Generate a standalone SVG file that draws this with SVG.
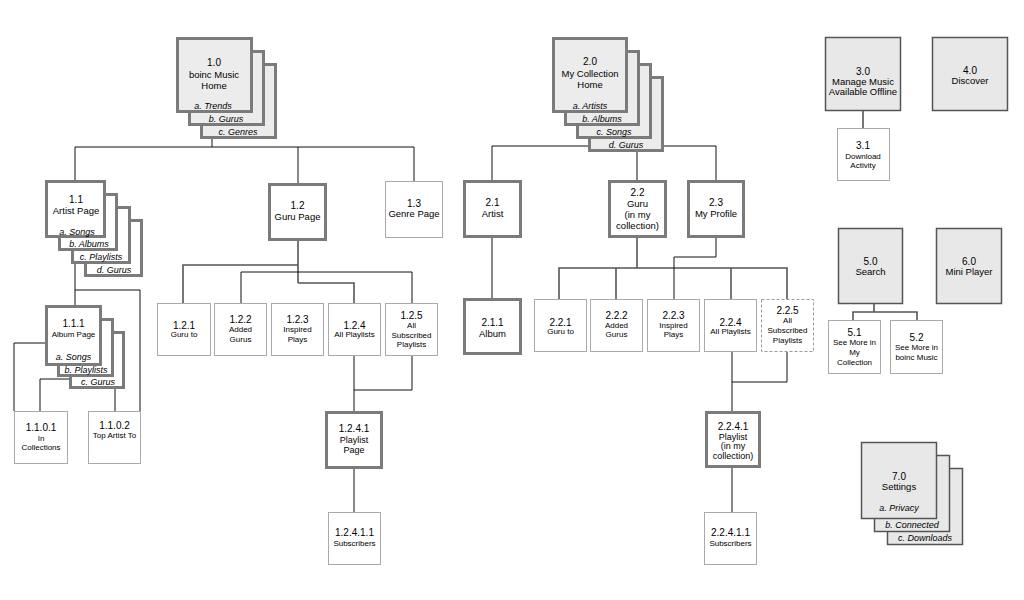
<svg xmlns="http://www.w3.org/2000/svg" width="1024" height="600" viewBox="0 0 1024 600">
<style>
.bg{fill:#fff}
.tk{fill:#fff;stroke:#7b7b7b;stroke-width:3}
.tkg{fill:#ececec;stroke:#7b7b7b;stroke-width:3}
.tn{fill:#fff;stroke:#aaa;stroke-width:1}
.dk{fill:#e8e8e8;stroke:#555;stroke-width:1.5}
.ds{fill:#fff;stroke:#999;stroke-width:1;stroke-dasharray:3 2}
text{font-family:"Liberation Sans",Arial,sans-serif;text-anchor:middle;fill:#000}
.n{font-size:10px}
.l{font-size:9.5px}
.m{font-size:9px}
.s{font-size:8px}
.i{font-size:9px;font-style:italic}
.c path{fill:none;stroke:#111;stroke-width:1}
.c path.g{stroke:#555;stroke-width:1.6}
</style>
<rect class="bg" x="0" y="0" width="1024" height="600"/>

<g id="connectors" class="c">
<path d="M212 137V147M75 147H414M75 147V305M298 147V183M414 147V181"/>
<path d="M75 290H140V411M46 343H14V411M70 379H40V411M115 388V411"/>
<path class="g" d="M298 241V283M298 265H183V303M298 283H354V303"/>
<path d="M241 303V272H412V303"/>
<path d="M354 355V411M412 355V390H354M354 468V512"/>
<path d="M589 146H492V180M637 150V180M662 146H716V180M492 238V298"/>
<path class="g" d="M637 238V268M559 299V268H787V299M616 268V299M731 268V299"/>
<path d="M716 238V257H674V299"/>
<path d="M732 352V411M787 352V382H732M732 468V512"/>
<path class="g" d="M863 111V128M874 303V312M853 320V312H917V320"/>
</g>

<g id="n1_0">
<rect class="tkg" x="201.5" y="64.5" width="74" height="73"/>
<text class="i" x="238" y="134.5">c. Genres</text>
<rect class="tkg" x="189.5" y="51.5" width="74" height="73"/>
<text class="i" x="226" y="121.5">b. Gurus</text>
<rect class="tkg" x="177.5" y="38.5" width="74" height="73"/>
<text class="n" x="214" y="66">1.0</text>
<text class="l" x="214" y="78">boinc Music</text>
<text class="l" x="214" y="89">Home</text>
<text class="i" x="213" y="108.5">a. Trends</text>
</g>

<g id="n1_1">
<rect class="tk" x="85.5" y="220.5" width="56" height="55"/>
<text class="i" x="114" y="273">d. Gurus</text>
<rect class="tk" x="72.5" y="207.5" width="57" height="55"/>
<text class="i" x="101" y="260">c. Playlists</text>
<rect class="tk" x="59.5" y="194.5" width="57" height="55"/>
<text class="i" x="89" y="247">b. Albums</text>
<rect class="tk" x="46.5" y="181.5" width="58" height="55"/>
<text class="n" x="76" y="203">1.1</text>
<text class="l" x="76" y="213.5">Artist Page</text>
<text class="i" x="77" y="234.5">a. Songs</text>
</g>

<g id="n1_1_1">
<rect class="tk" x="70.5" y="332.5" width="53" height="55"/>
<text class="i" x="98" y="384.5">c. Gurus</text>
<rect class="tk" x="58.5" y="319.5" width="54" height="56"/>
<text class="i" x="86" y="372.5">b. Playlists</text>
<rect class="tk" x="46.5" y="306.5" width="54" height="58"/>
<text class="n" x="73.5" y="327">1.1.1</text>
<text class="s" x="73.5" y="337">Album Page</text>
<text class="i" x="73.5" y="359.5">a. Songs</text>
</g>

<g id="n1_1_0_1">
<rect class="tn" x="14.5" y="411.5" width="53" height="52"/>
<text class="n" x="41" y="431">1.1.0.1</text>
<text class="s" x="41" y="440.5">In</text>
<text class="s" x="41" y="449.5">Collections</text>
</g>
<g id="n1_1_0_2">
<rect class="tn" x="88.5" y="411.5" width="52" height="52"/>
<text class="n" x="114.5" y="428.5">1.1.0.2</text>
<text class="s" x="114.5" y="438">Top Artist To</text>
</g>

<g id="n1_2">
<rect class="tk" x="269.5" y="184.5" width="56" height="55"/>
<text class="n" x="297.5" y="208.5">1.2</text>
<text class="l" x="297.5" y="220">Guru Page</text>
</g>
<g id="n1_3">
<rect class="tn" x="385.5" y="181.5" width="57" height="56"/>
<text class="n" x="414" y="207">1.3</text>
<text class="l" x="414" y="217">Genre Page</text>
</g>

<g id="n1_2_1">
<rect class="tn" x="157.5" y="303.5" width="53" height="52"/>
<text class="n" x="184" y="328.5">1.2.1</text>
<text class="s" x="184" y="337">Guru to</text>
</g>
<g id="n1_2_2">
<rect class="tn" x="214.5" y="303.5" width="52" height="52"/>
<text class="n" x="240.5" y="322.5">1.2.2</text>
<text class="s" x="240.5" y="332">Added</text>
<text class="s" x="240.5" y="342">Gurus</text>
</g>
<g id="n1_2_3">
<rect class="tn" x="271.5" y="303.5" width="52" height="52"/>
<text class="n" x="297.5" y="322.5">1.2.3</text>
<text class="s" x="297.5" y="332">Inspired</text>
<text class="s" x="297.5" y="342">Plays</text>
</g>
<g id="n1_2_4">
<rect class="tn" x="328.5" y="303.5" width="52" height="52"/>
<text class="n" x="354.5" y="328.5">1.2.4</text>
<text class="s" x="354.5" y="337">All Playlists</text>
</g>
<g id="n1_2_5">
<rect class="tn" x="385.5" y="303.5" width="52" height="52"/>
<text class="n" x="411.5" y="318.5">1.2.5</text>
<text class="s" x="411.5" y="328">All</text>
<text class="s" x="411.5" y="337.5">Subscribed</text>
<text class="s" x="411.5" y="347">Playlists</text>
</g>

<g id="n1_2_4_1">
<rect class="tk" x="326.5" y="412.5" width="55" height="55"/>
<text class="n" x="354" y="431.5">1.2.4.1</text>
<text class="m" x="354" y="442.5">Playlist</text>
<text class="m" x="354" y="453">Page</text>
</g>
<g id="n1_2_4_1_1">
<rect class="tn" x="328.5" y="512.5" width="52" height="52"/>
<text class="n" x="354.5" y="535.5">1.2.4.1.1</text>
<text class="s" x="354.5" y="546">Subscribers</text>
</g>

<g id="n2_0">
<rect class="tkg" x="589.5" y="77.5" width="73" height="73"/>
<text class="i" x="626" y="148">d. Gurus</text>
<rect class="tkg" x="577.5" y="64.5" width="73" height="73"/>
<text class="i" x="614" y="135">c. Songs</text>
<rect class="tkg" x="565.5" y="51.5" width="73" height="73"/>
<text class="i" x="602" y="122">b. Albums</text>
<rect class="tkg" x="553.5" y="38.5" width="73" height="73"/>
<text class="n" x="590" y="65">2.0</text>
<text class="l" x="590" y="77">My Collection</text>
<text class="l" x="590" y="88">Home</text>
<text class="i" x="590" y="109">a. Artists</text>
</g>

<g id="n2_1">
<rect class="tk" x="464.5" y="181.5" width="56" height="55"/>
<text class="n" x="492.5" y="205.5">2.1</text>
<text class="l" x="492.5" y="216.5">Artist</text>
</g>
<g id="n2_1_1">
<rect class="tk" x="464.5" y="299.5" width="56" height="54"/>
<text class="n" x="492.5" y="325.5">2.1.1</text>
<text class="l" x="492.5" y="336.5">Album</text>
</g>
<g id="n2_2">
<rect class="tk" x="609.5" y="181.5" width="56" height="55"/>
<text class="n" x="637.5" y="195.5">2.2</text>
<text class="l" x="637.5" y="206.5">Guru</text>
<text class="l" x="637.5" y="217.5">(in my</text>
<text class="l" x="637.5" y="228.5">collection)</text>
</g>
<g id="n2_3">
<rect class="tk" x="688.5" y="181.5" width="55" height="55"/>
<text class="n" x="716" y="205.5">2.3</text>
<text class="l" x="716" y="216.5">My Profile</text>
</g>

<g id="n2_2_1">
<rect class="tn" x="534.5" y="299.5" width="52" height="52"/>
<text class="n" x="560.5" y="325.5">2.2.1</text>
<text class="s" x="560.5" y="333.5">Guru to</text>
</g>
<g id="n2_2_2">
<rect class="tn" x="590.5" y="299.5" width="52" height="52"/>
<text class="n" x="616.5" y="318.5">2.2.2</text>
<text class="s" x="616.5" y="327.5">Added</text>
<text class="s" x="616.5" y="337">Gurus</text>
</g>
<g id="n2_2_3">
<rect class="tn" x="647.5" y="299.5" width="52" height="52"/>
<text class="n" x="673.5" y="318.5">2.2.3</text>
<text class="s" x="673.5" y="327.5">Inspired</text>
<text class="s" x="673.5" y="337">Plays</text>
</g>
<g id="n2_2_4">
<rect class="tn" x="704.5" y="299.5" width="52" height="52"/>
<text class="n" x="730.5" y="325.5">2.2.4</text>
<text class="s" x="730.5" y="333.5">All Playlists</text>
</g>
<g id="n2_2_5">
<rect class="ds" x="761.5" y="299.5" width="52" height="52"/>
<text class="n" x="787.5" y="313.5">2.2.5</text>
<text class="s" x="787.5" y="323">All</text>
<text class="s" x="787.5" y="333">Subscribed</text>
<text class="s" x="787.5" y="342.5">Playlists</text>
</g>

<g id="n2_2_4_1">
<rect class="tk" x="706.5" y="412.5" width="53" height="54"/>
<text class="n" x="733" y="430">2.2.4.1</text>
<text class="m" x="733" y="439.5">Playlist</text>
<text class="m" x="733" y="449">(in my</text>
<text class="m" x="733" y="459">collection)</text>
</g>
<g id="n2_2_4_1_1">
<rect class="tn" x="704.5" y="512.5" width="52" height="52"/>
<text class="n" x="730.5" y="536">2.2.4.1.1</text>
<text class="s" x="730.5" y="546">Subscribers</text>
</g>

<g id="n3_0">
<rect class="dk" x="825.5" y="37.5" width="75" height="73"/>
<text class="n" x="863" y="74.5">3.0</text>
<text class="l" x="863" y="84.5">Manage Music</text>
<text class="l" x="863" y="95">Available Offline</text>
</g>
<g id="n3_1">
<rect class="tn" x="837.5" y="128.5" width="52" height="52"/>
<text class="n" x="863" y="149">3.1</text>
<text class="s" x="863" y="158.5">Download</text>
<text class="s" x="863" y="168">Activity</text>
</g>
<g id="n4_0">
<rect class="dk" x="932.5" y="37.5" width="75" height="73"/>
<text class="n" x="970" y="73.5">4.0</text>
<text class="l" x="970" y="83.5">Discover</text>
</g>
<g id="n5_0">
<rect class="dk" x="838.5" y="228.5" width="64" height="75"/>
<text class="n" x="870.5" y="264.5">5.0</text>
<text class="l" x="870.5" y="274.5">Search</text>
</g>
<g id="n6_0">
<rect class="dk" x="936.5" y="228.5" width="65" height="75"/>
<text class="n" x="969" y="264.5">6.0</text>
<text class="l" x="969" y="274.5">Mini Player</text>
</g>
<g id="n5_1">
<rect class="tn" x="828.5" y="320.5" width="52" height="53"/>
<text class="n" x="854.5" y="335.5">5.1</text>
<text class="s" x="854.5" y="344.5">See More in</text>
<text class="s" x="854.5" y="354.5">My</text>
<text class="s" x="854.5" y="364.5">Collection</text>
</g>
<g id="n5_2">
<rect class="tn" x="890.5" y="320.5" width="52" height="53"/>
<text class="n" x="916.5" y="340.5">5.2</text>
<text class="s" x="916.5" y="350">See More in</text>
<text class="s" x="916.5" y="359.5">boinc Music</text>
</g>

<g id="n7_0">
<rect class="dk" x="887.5" y="468.5" width="75" height="76"/>
<text class="i" x="925" y="541">c. Downloads</text>
<rect class="dk" x="874.5" y="455.5" width="75" height="76"/>
<text class="i" x="912" y="528">b. Connected</text>
<rect class="dk" x="861.5" y="442.5" width="75" height="76"/>
<text class="n" x="899" y="479.5">7.0</text>
<text class="l" x="899" y="489.5">Settings</text>
<text class="i" x="899" y="511">a. Privacy</text>
</g>
</svg>
